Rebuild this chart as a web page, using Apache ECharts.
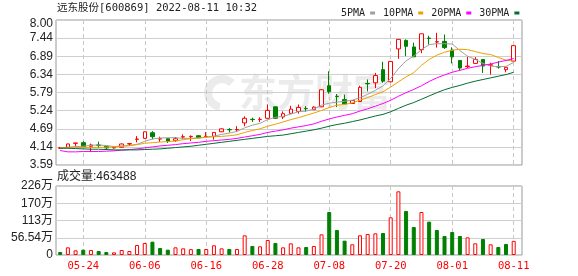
<!DOCTYPE html>
<html><head><meta charset="utf-8">
<script src="https://cdn.jsdelivr.net/npm/echarts@6/dist/echarts.min.js"></script>
<style>html,body{margin:0;padding:0;background:#fff}#c{width:578px;height:276px}</style>
</head><body><div id="c"></div>
<script>
const dates = ['05-19','05-20','05-23','05-24','05-25','05-26','05-27','05-30','05-31','06-01',
  '06-02','06-06','06-07','06-08','06-09','06-10','06-13','06-14','06-15','06-16',
  '06-17','06-20','06-21','06-22','06-23','06-24','06-27','06-28','06-29','06-30',
  '07-01','07-04','07-05','07-06','07-07','07-08','07-11','07-12','07-13','07-14',
  '07-15','07-18','07-19','07-20','07-21','07-22','07-25','07-26','07-27','07-28',
  '07-29','08-01','08-02','08-03','08-04','08-05','08-08','08-09','08-10','08-11'];
const opens = [4.10,4.12,4.25,4.27,4.16,4.20,4.16,4.11,4.13,4.23,
  4.37,4.40,4.57,4.38,4.39,4.33,4.44,4.45,4.48,4.45,
  4.46,4.60,4.67,4.66,4.87,4.98,4.97,5.01,5.36,5.05,
  5.16,5.22,5.31,5.27,5.36,6.00,5.68,5.58,5.46,5.52,
  6.07,6.09,6.49,6.12,7.12,7.38,7.18,7.10,7.45,7.33,
  7.35,7.08,6.77,6.58,6.68,6.80,6.62,6.58,6.49,6.75];
const closes = [4.11,4.23,4.26,4.15,4.20,4.19,4.11,4.12,4.23,4.24,
  4.38,4.60,4.45,4.39,4.31,4.39,4.45,4.46,4.42,4.46,
  4.58,4.69,4.66,4.67,5.01,4.97,4.98,5.25,5.01,5.15,
  5.29,5.34,5.30,5.35,5.88,5.82,5.67,5.45,5.55,5.95,
  6.06,6.31,6.14,6.74,7.41,7.20,6.88,7.58,7.44,7.34,
  7.16,6.88,6.54,6.60,6.80,6.60,6.64,6.57,6.56,7.22];
const lows = [4.08,4.11,4.15,4.14,4.01,4.11,4.05,4.09,4.12,4.17,
  4.28,4.39,4.37,4.29,4.26,4.30,4.37,4.32,4.41,4.41,
  4.36,4.59,4.58,4.60,4.77,4.90,4.90,5.00,5.00,4.99,
  5.15,5.15,5.21,5.26,5.35,5.76,5.35,5.44,5.45,5.51,
  5.83,5.93,6.09,6.10,6.82,6.90,6.88,6.99,7.25,7.16,
  7.12,6.68,6.46,6.54,6.67,6.39,6.34,6.52,6.41,6.74];
const highs = [4.14,4.24,4.26,4.31,4.24,4.30,4.17,4.14,4.24,4.26,
  4.47,4.61,4.62,4.45,4.41,4.44,4.52,4.49,4.49,4.59,
  4.58,4.70,4.71,4.77,5.07,5.03,5.04,5.43,5.37,5.22,
  5.39,5.43,5.38,5.38,5.90,6.44,5.75,5.73,5.56,6.00,
  6.19,6.39,6.73,6.75,7.41,7.41,7.31,7.58,7.52,7.61,
  7.56,7.17,6.78,6.88,6.87,6.81,6.70,6.75,6.57,7.23];
const prevClose = 4.13;
const volumes = [98000,251000,153000,175000,164000,131000,98000,87000,164000,131000,
  328000,393000,437000,229000,175000,251000,218000,192000,197000,197000,
  317000,218000,197000,197000,645000,295000,284000,492000,393000,251000,
  382000,251000,262000,295000,677000,1409000,819000,470000,350000,645000,
  688000,710000,721000,1235000,2087000,1442000,918000,1409000,1093000,819000,
  623000,754000,623000,579000,382000,524000,350000,262000,361000,463488];
const ma5 = [4.12,4.13,4.15,4.16,4.19,4.20,4.18,4.15,4.17,4.18,
  4.22,4.31,4.38,4.41,4.42,4.42,4.40,4.40,4.41,4.44,
  4.47,4.52,4.56,4.61,4.72,4.80,4.86,4.97,5.04,5.07,
  5.14,5.21,5.23,5.29,5.41,5.47,5.50,5.53,5.56,5.64,
  5.74,5.86,6.00,6.22,6.52,6.76,6.90,7.10,7.25,7.28,
  7.28,7.27,7.07,6.90,6.80,6.68,6.60,6.58,6.59,6.71];
const ma10 = [4.10,4.11,4.12,4.12,4.12,4.13,4.13,4.14,4.16,4.18,
  4.21,4.25,4.27,4.29,4.30,4.32,4.36,4.39,4.41,4.43,
  4.45,4.46,4.48,4.51,4.58,4.64,4.69,4.77,4.83,4.90,
  4.97,5.03,5.10,5.17,5.25,5.34,5.41,5.43,5.48,5.56,
  5.64,5.73,5.82,5.96,6.12,6.27,6.40,6.62,6.80,6.93,
  7.02,7.08,7.11,7.10,7.04,6.98,6.95,6.86,6.78,6.75];
const ma20 = [4.03,3.99,3.99,4.00,4.00,4.00,4.01,4.02,4.04,4.06,
  4.08,4.11,4.14,4.17,4.19,4.21,4.24,4.26,4.28,4.31,
  4.33,4.35,4.37,4.40,4.44,4.48,4.52,4.58,4.62,4.66,
  4.71,4.75,4.79,4.84,4.92,4.99,5.05,5.10,5.15,5.23,
  5.30,5.38,5.46,5.56,5.68,5.79,5.89,6.00,6.13,6.24,
  6.33,6.41,6.47,6.53,6.58,6.62,6.66,6.72,6.77,6.83];
const ma30 = [4.10,4.10,4.09,4.08,4.07,4.07,4.06,4.05,4.05,4.05,
  4.05,4.06,4.07,4.08,4.10,4.12,4.14,4.16,4.19,4.22,
  4.25,4.28,4.31,4.34,4.37,4.40,4.43,4.46,4.48,4.50,
  4.54,4.58,4.62,4.66,4.71,4.77,4.82,4.86,4.91,4.96,
  5.02,5.08,5.13,5.21,5.31,5.41,5.49,5.59,5.69,5.79,
  5.88,5.95,6.01,6.08,6.14,6.19,6.24,6.29,6.34,6.41];
const priceTickLabels = ['3.59','4.14','4.69','5.24','5.79','6.34','6.89','7.44','8.00'];
const volTickLabels = ['0','56.54万','113万','170万','226万'];
const legendNames = ['5PMA','10PMA','20PMA','30PMA'];

const UP = '#ff0000', DOWN = '#008000';
const candleData = dates.map((d, i) => [opens[i], closes[i], lows[i], highs[i]]);
const volData = volumes.map((v, i) => {
  const pc = i === 0 ? prevClose : closes[i - 1];
  const up = closes[i] >= pc;
  return { value: v, itemStyle: up ? { color: '#fff', borderColor: UP, borderWidth: 1 } : { color: DOWN, borderColor: DOWN, borderWidth: 1 } };
});
const labelEvery = (i) => (i - 3) % 8 === 0;
const FRAME = { show: true, borderColor: '#999', borderWidth: 1, backgroundColor: 'transparent', containLabel: false, outerBoundsMode: 'none' };
const DATA = { show: false, containLabel: false, outerBoundsMode: 'none' };
const PL = 56, PR = 578 - 522, DL = 60.2, DR = 578 - 513.7;
const labelFont = '"Liberation Sans","Noto Sans CJK SC",sans-serif';
const WM = '#ebebeb';

const chart = echarts.init(document.getElementById('c'), null, { renderer: 'canvas' });
chart.setOption({
  animation: false,
  backgroundColor: '#fff',
  grid: [
    Object.assign({ left: PL, right: PR, top: 20, height: 145 }, FRAME),
    Object.assign({ left: DL, right: DR, top: 20, height: 145 }, DATA),
    Object.assign({ left: PL, right: PR, top: 186, height: 69 }, FRAME),
    Object.assign({ left: DL, right: DR, top: 186, height: 69 }, DATA)
  ],
  xAxis: [
    { type: 'value', gridIndex: 0, min: 0, max: 1, show: false },
    { type: 'category', gridIndex: 1, data: dates, boundaryGap: false,
      axisLine: { show: false }, axisTick: { show: false }, axisLabel: { show: false },
      splitLine: { show: true, interval: labelEvery, lineStyle: { color: '#c8c8c8', type: [4, 3], width: 1 } } },
    { type: 'value', gridIndex: 2, min: 0, max: 1, show: false },
    { type: 'category', gridIndex: 3, data: dates, boundaryGap: false,
      axisLine: { show: false }, axisTick: { show: false },
      axisLabel: { show: true, interval: labelEvery, color: '#ff0000', fontFamily: '"DejaVu Sans Mono",monospace', fontSize: 10.5, margin: 6 },
      splitLine: { show: true, interval: labelEvery, lineStyle: { color: '#c8c8c8', type: [4, 3], width: 1 } } }
  ],
  yAxis: [
    { type: 'value', gridIndex: 0, min: 3.59, max: 8.0, interval: 0.55125,
      axisLine: { show: false }, axisTick: { show: false },
      axisLabel: { margin: 3, color: '#222', fontSize: 12, fontFamily: labelFont,
        formatter: (v, idx) => idx === 8 ? '{t|' + priceTickLabels[idx] + '}' : priceTickLabels[idx],
        rich: { t: { padding: [8, 0, 0, 0], color: '#222', fontSize: 12, fontFamily: labelFont } } },
      splitLine: { show: true, lineStyle: { color: '#cfcfcf', width: 1 } } },
    { type: 'value', gridIndex: 1, min: 3.59, max: 8.0, show: false },
    { type: 'value', gridIndex: 2, min: 0, max: 2261600, interval: 565400,
      axisLine: { show: false }, axisTick: { show: false },
      axisLabel: { margin: 3, color: '#222', fontSize: 12, fontFamily: labelFont,
        formatter: (v, idx) => volTickLabels[idx] },
      splitLine: { show: true, lineStyle: { color: '#cfcfcf', width: 1 } } },
    { type: 'value', gridIndex: 3, min: 0, max: 2261600, show: false }
  ],
  legend: {
    left: 336, top: 3, align: 'right', icon: 'rect', itemWidth: 5, itemHeight: 3, itemGap: 8,
    selectedMode: false, data: legendNames,
    textStyle: { fontFamily: '"DejaVu Sans Mono",monospace', fontSize: 10, color: '#222' }
  },
  graphic: [
    { type: 'text', x: 57, y: 8, z: 10, style: { text: '远东股份[600869] 2022-08-11 10:32',
      font: '10.5px "DejaVu Sans Mono","Noto Sans CJK SC"', fill: '#222', verticalAlign: 'middle' } },
    { type: 'text', x: 57, y: 177, z: 10, style: { text: '成交量:463488',
      font: '12px "Liberation Sans","Noto Sans CJK SC"', fill: '#222', verticalAlign: 'middle' } },
    { type: 'sector', z: -1, silent: true, shape: { cx: 222, cy: 93, r: 18, r0: 10, startAngle: Math.PI * 0.55, endAngle: Math.PI * 1.75 },
      style: { fill: WM } },
    { type: 'text', x: 239, y: 92, z: -1, silent: true, style: { text: '东方财富',
      font: 'bold 38px "Noto Sans CJK SC"', fill: WM, verticalAlign: 'middle' } }
  ],
  series: [
    { type: 'candlestick', xAxisIndex: 1, yAxisIndex: 1, data: candleData, barWidth: 4, clip: false,
      itemStyle: { color: '#fff', color0: DOWN, borderColor: UP, borderColor0: DOWN, borderWidth: 1 } },
    { type: 'line', name: '5PMA', xAxisIndex: 1, yAxisIndex: 1, data: ma5, symbol: 'none', color: '#a0a0a0', lineStyle: { width: 1 } },
    { type: 'line', name: '10PMA', xAxisIndex: 1, yAxisIndex: 1, data: ma10, symbol: 'none', color: '#f0a000', lineStyle: { width: 1 } },
    { type: 'line', name: '20PMA', xAxisIndex: 1, yAxisIndex: 1, data: ma20, symbol: 'none', color: '#ff00ff', lineStyle: { width: 1 } },
    { type: 'line', name: '30PMA', xAxisIndex: 1, yAxisIndex: 1, data: ma30, symbol: 'none', color: '#007030', lineStyle: { width: 1 } },
    { type: 'bar', xAxisIndex: 3, yAxisIndex: 3, data: volData, barWidth: 4 }
  ]
});
</script></body></html>
